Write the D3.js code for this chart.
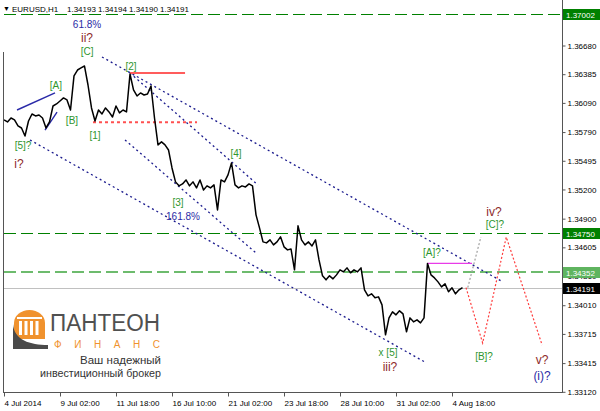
<!DOCTYPE html>
<html><head><meta charset="utf-8">
<script src="https://cdn.jsdelivr.net/npm/d3@7"></script>
<style>
body{margin:0;background:#fff}
svg{display:block}
text{font-family:"Liberation Sans",Arial,sans-serif}
</style>
</head><body>
<svg id="c" width="600" height="411"></svg>
<script>
// ---- DATA ----
// EURUSD H1 close prices, one value every 4 bars starting 4 Jul 2014
const barStep = 4;
const closes = [
1.35915,1.35894,1.35935,1.35915,1.35853,1.35832,1.35750,1.35904,1.35976,1.35956,
1.35966,1.35935,1.35832,1.35894,1.36058,1.36079,1.36110,1.36141,1.36120,1.36017,
1.36367,1.36428,1.36449,1.36469,1.36274,1.36038,1.35904,1.36017,1.35976,1.36038,
1.35997,1.35945,1.36058,1.35987,1.36017,1.35997,1.36387,1.36223,1.36161,1.36192,
1.36171,1.36182,1.36264,1.35935,1.35658,1.35689,1.35658,1.35606,1.35421,1.35278,
1.35237,1.35257,1.35298,1.35237,1.35278,1.35216,1.35298,1.35195,1.35237,1.35216,
1.35247,1.34990,1.35298,1.35278,1.35350,1.35473,1.35247,1.35216,1.35237,1.35226,
1.35257,1.35237,1.34939,1.34805,1.34661,1.34651,1.34682,1.34630,1.34661,1.34713,
1.34610,1.34579,1.34589,1.34374,1.34826,1.34682,1.34630,1.34661,1.34620,1.34682,
1.34476,1.34312,1.34271,1.34312,1.34281,1.34322,1.34374,1.34353,1.34394,1.34343,
1.34374,1.34353,1.34394,1.34168,1.34106,1.34127,1.34086,1.34096,1.34014,1.33706,
1.33880,1.33942,1.33911,1.33952,1.33921,1.33737,1.33880,1.33839,1.33860,1.33829,
1.33880,1.34440,1.34322,1.34291,1.34250,1.34199,1.34230,1.34148,1.34189,1.34127,
1.34168,1.34191
];
const xTickBars = [0,64,128,192,256,320,384,448,512];
const xTickLabels = ["4 Jul 2014","9 Jul 02:00","11 Jul 18:00","16 Jul 10:00","21 Jul 02:00","23 Jul 18:00","28 Jul 10:00","31 Jul 02:00","4 Aug 18:00"];
const yTickValues = [1.36680,1.36385,1.36090,1.35790,1.35495,1.35200,1.34900,1.34605,1.34310,1.34010,1.33715,1.33415,1.33120];
const headerText = ["EURUSD,H1","1.34193","1.34194","1.34190","1.34191"];
const levelDark = [1.37002, 1.34750];
const levelLight = [1.34352];
const bidPrice = 1.34191;
// trend lines: [bar1, price1, bar2, price2]
const channelLines = [
  [112, 1.36562, 570.3, 1.34249],
  [29.7, 1.35709, 481, 1.33426],
  [144, 1.36397, 290.3, 1.35246],
  [138.3, 1.35709, 288, 1.34547]
];
const solidBlueLines = [
  [14.9, 1.36017, 58.3, 1.36192],
  [46.9, 1.35811, 60.6, 1.35996]
];
const redSolid = [144, 1.36397, 206.9, 1.36397];
const redDotted = [101.7, 1.35890, 220.6, 1.35890];
const pinkLine = [484, 1.34440, 534.9, 1.34440];
const forecastBars = [528, 547, 574, 615];
const forecastPrices = [1.34191, 1.33622, 1.34711, 1.33601];
const altBars = [530, 545];
const altPrices = [1.34191, 1.34711];
// wave labels: text, bar, price, kind
const waveLabels = [
  ["61.8%", 94.9, 1.36891, "b"],
  ["ii?", 94.9, 1.36757, "r"],
  ["[C]", 94.9, 1.36623, "g"],
  ["[A]", 59.4, 1.36264, "g"],
  ["[B]", 77.7, 1.35914, "g"],
  ["[1]", 104, 1.35750, "g"],
  ["[2]", 145.1, 1.36459, "g"],
  ["[3]", 198.9, 1.35061, "g"],
  ["[4]", 265.1, 1.35565, "g"],
  ["161.8%", 204.6, 1.34917, "b"],
  ["[5]?", 21.7, 1.35657, "g"],
  ["i?", 17.1, 1.35462, "r"],
  ["x [5]", 438.9, 1.33529, "g"],
  ["iii?", 441.1, 1.33375, "r"],
  ["[A]?", 489.1, 1.34557, "g"],
  ["[B]?", 548.6, 1.33478, "g"],
  ["iv?", 560, 1.34968, "r"],
  ["[C]?", 561.1, 1.34835, "g"],
  ["v?", 614.9, 1.33447, "r"],
  ["(i)?", 614.9, 1.33282, "bb"]
];

// ---- CHART ----
const svg = d3.select("#c");
const x = d3.scaleLinear().domain([0, 637.7]).range([4, 562]);
const y = d3.scaleLinear().domain([1.33120, 1.36680]).range([391.8, 45.5]);
const L = 4, R = 562, B = 392.5;

// level lines
svg.selectAll(".lvd").data(levelDark).join("line")
  .attr("x1", L).attr("x2", R).attr("y1", d=>Math.round(y(d))+0.5).attr("y2", d=>Math.round(y(d))+0.5)
  .attr("stroke", "#008000").attr("stroke-width", 1.2).attr("stroke-dasharray", "12,5");
svg.selectAll(".lvl").data(levelLight).join("line")
  .attr("x1", L).attr("x2", R).attr("y1", d=>y(d)).attr("y2", d=>y(d))
  .attr("stroke", "#6dbb6d").attr("stroke-width", 2).attr("stroke-dasharray", "12,5");
svg.append("line").attr("x1", L).attr("x2", R)
  .attr("y1", Math.round(y(bidPrice))+0.5).attr("y2", Math.round(y(bidPrice))+0.5)
  .attr("stroke", "#c0c0c0").attr("stroke-width", 1);

// channel dotted lines
svg.selectAll(".ch").data(channelLines).join("line")
  .attr("x1", d=>x(d[0])).attr("y1", d=>y(d[1])).attr("x2", d=>x(d[2])).attr("y2", d=>y(d[3]))
  .attr("stroke", "#1c1c8e").attr("stroke-width", 1.3).attr("stroke-dasharray", "2,3");
svg.selectAll(".sb").data(solidBlueLines).join("line")
  .attr("x1", d=>x(d[0])).attr("y1", d=>y(d[1])).attr("x2", d=>x(d[2])).attr("y2", d=>y(d[3]))
  .attr("stroke", "#2a2aa8").attr("stroke-width", 1.4);

// red lines
svg.append("line").attr("x1", x(redSolid[0])).attr("y1", y(redSolid[1])).attr("x2", x(redSolid[2])).attr("y2", y(redSolid[3]))
  .attr("stroke", "#ff5c5c").attr("stroke-width", 2);
svg.append("line").attr("x1", x(redDotted[0])).attr("y1", y(redDotted[1])).attr("x2", x(redDotted[2])).attr("y2", y(redDotted[3]))
  .attr("stroke", "#ff5050").attr("stroke-width", 2).attr("stroke-dasharray", "3,3");
svg.append("line").attr("x1", x(pinkLine[0])).attr("y1", y(pinkLine[1])).attr("x2", x(pinkLine[2])).attr("y2", y(pinkLine[3]))
  .attr("stroke", "#e83ce8").attr("stroke-width", 1.2);

// forecast paths
const fl = d3.line().x(d=>x(d[0])).y(d=>y(d[1]));
svg.append("path").attr("d", fl(altBars.map((b,i)=>[b, altPrices[i]])))
  .attr("fill","none").attr("stroke","#a0a0a0").attr("stroke-width",1.2).attr("stroke-dasharray","2,2");
svg.append("path").attr("d", fl(forecastBars.map((b,i)=>[b, forecastPrices[i]])))
  .attr("fill","none").attr("stroke","#ff3c3c").attr("stroke-width",1.2).attr("stroke-dasharray","2,2");

// price line
const priceLine = d3.line().x((d,i)=>x(i*barStep)).y(d=>y(d));
svg.append("path").attr("d", priceLine(closes))
  .attr("fill","none").attr("stroke","#000").attr("stroke-width",1.5).attr("stroke-linejoin","round");

// wave labels
const kindColor = {g:"#2e962e", r:"#8e2a2a", b:"#2b2ba6", bb:"#2b2ba6"};
const kindSize = {g:10, r:12, b:10, bb:12};
svg.selectAll(".wl").data(waveLabels).join("text")
  .attr("x", d=>x(d[1])).attr("y", d=>y(d[2]))
  .attr("text-anchor","middle").attr("dominant-baseline","central")
  .attr("fill", d=>kindColor[d[3]]).attr("font-size", d=>kindSize[d[3]])
  .text(d=>d[0]);

// frame
svg.append("line").attr("x1", L-0.5).attr("x2", L-0.5).attr("y1", 52).attr("y2", B).attr("stroke","#555");
svg.append("line").attr("x1", R+0.5).attr("x2", R+0.5).attr("y1", 0).attr("y2", B).attr("stroke","#555");
svg.append("line").attr("x1", L-1).attr("x2", R+1).attr("y1", B).attr("y2", B).attr("stroke","#555");

// right axis
const ay = svg.append("g").attr("transform", `translate(${R+0.5},0)`)
  .call(d3.axisRight(y).tickValues(yTickValues).tickFormat(d3.format(".5f")).tickSize(3).tickPadding(2));
ay.select(".domain").remove();
ay.selectAll("line").attr("stroke","#555");
ay.selectAll("text").attr("font-size",8).attr("fill","#000").attr("font-family",'"Liberation Sans",Arial,sans-serif');

// bottom axis
const ax = svg.append("g").attr("transform", `translate(0,${B})`)
  .call(d3.axisBottom(x).tickValues(xTickBars).tickFormat((d,i)=>xTickLabels[i]).tickSize(4));
ax.select(".domain").remove();
ax.selectAll("line").attr("stroke","#555");
ax.selectAll("text").attr("font-size",8).attr("fill","#000").attr("text-anchor","start")
  .attr("x",0).attr("y",8).attr("font-family",'"Liberation Sans",Arial,sans-serif');

// price boxes
function priceBox(v, fill){
  const cy = Math.round(y(v));
  svg.append("rect").attr("x", R+1).attr("y", cy-5).attr("width", 600-R-1).attr("height", 11).attr("fill", fill);
  svg.append("text").attr("x", R+4).attr("y", cy+3.5).attr("font-size",8).attr("fill","#fff").text(d3.format(".5f")(v));
}
levelDark.forEach(v=>priceBox(v, "#008000"));
levelLight.forEach(v=>priceBox(v, "#5fb45f"));
priceBox(bidPrice, "#000");

// header
svg.append("text").attr("x",3).attr("y",11).attr("font-size",7).attr("font-family","DejaVu Sans").text("\u25BC");
const hx = [12, 67, 98, 129, 160];
svg.selectAll(".hd").data(headerText).join("text")
  .attr("x",(d,i)=>hx[i]).attr("y",12).attr("font-size",8).attr("fill","#000").text(d=>d);

// logo
const lg = svg.append("g");
lg.append("path").attr("d","M14,339 L14,323 A15.5,13 0 0 1 45,323 L45,339 Z").attr("fill","#f0922e");
[19,24.5,30,35.5].forEach(cx=>lg.append("rect").attr("x",cx).attr("y",321).attr("width",3).attr("height",14).attr("fill","#fff"));
lg.append("rect").attr("x",17).attr("y",317).attr("width",25).attr("height",2).attr("fill","#fff");
lg.append("path").attr("d","M13,324 C14,340 30,345 48,345 L48,349 L13,349 Z").attr("fill","#4a4a4a");
lg.append("text").attr("x",50).attr("y",331).attr("font-family","Lato,'Open Sans',sans-serif").attr("font-weight",300)
  .attr("font-size",23).attr("fill","#505050").attr("textLength",110).attr("lengthAdjust","spacingAndGlyphs").text("ПАНТЕОН");
lg.append("text").attr("x",54).attr("y",348).attr("font-family","'Open Sans',sans-serif")
  .attr("font-size",10).attr("fill","#f0922e").attr("textLength",106).attr("lengthAdjust","spacing").text("ФИНАНС");
lg.append("text").attr("x",161).attr("y",364).attr("text-anchor","end").attr("font-family","'Liberation Serif',serif")
  .attr("font-size",11.5).attr("fill","#333").text("Ваш надежный");
lg.append("text").attr("x",161).attr("y",377).attr("text-anchor","end").attr("font-family","'Liberation Serif',serif")
  .attr("font-size",11.5).attr("fill","#333").attr("textLength",121).attr("lengthAdjust","spacingAndGlyphs").text("инвестиционный брокер");
</script>
</body></html>
